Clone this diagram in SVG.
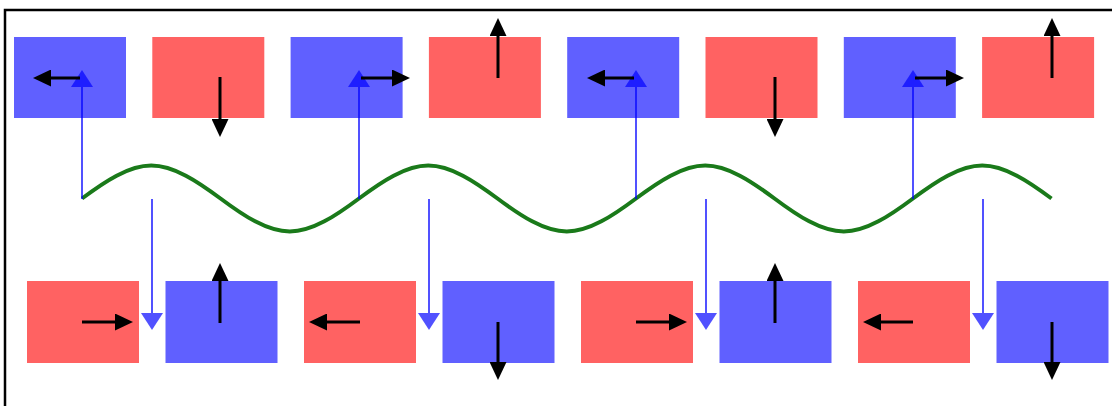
<svg xmlns="http://www.w3.org/2000/svg" width="1112" height="406" viewBox="0 0 1112 406">
<style>
.b{fill:#6060ff}
.r{fill:#ff6262}
.ba{stroke:#000;stroke-width:3;fill:none;marker-end:url(#bh)}
.ca{stroke:#0000ff;stroke-width:2;fill:none;opacity:0.68;marker-end:url(#ch)}
.wave{stroke:#1a7a1a;stroke-width:4;fill:none}
</style>
<defs>
<marker id="bh" markerUnits="userSpaceOnUse" markerWidth="18" markerHeight="17" refX="8" refY="8.5" orient="auto"><path d="M0,0 L18,8.5 L0,17 z" fill="#000"/></marker>
<marker id="ch" markerUnits="userSpaceOnUse" markerWidth="17" markerHeight="22" refX="7" refY="11" orient="auto"><path d="M0,0 L17,11 L0,22 z" fill="#0000ff"/></marker>
</defs>
<rect width="1112" height="406" fill="#fff"/>
<path d="M5,406 V10 H1112" stroke="#000" stroke-width="2.5" fill="none"/>
<g id="top-row">
<g id="t1"><rect class="b" x="14" y="37" width="112" height="81"/></g>
<g id="t2"><rect class="r" x="152.3" y="37" width="112" height="81"/></g>
<g id="t3"><rect class="b" x="290.6" y="37" width="112" height="81"/></g>
<g id="t4"><rect class="r" x="428.9" y="37" width="112" height="81"/></g>
<g id="t5"><rect class="b" x="567.2" y="37" width="112" height="81"/></g>
<g id="t6"><rect class="r" x="705.5" y="37" width="112" height="81"/></g>
<g id="t7"><rect class="b" x="843.8" y="37" width="112" height="81"/></g>
<g id="t8"><rect class="r" x="982.1" y="37" width="112" height="81"/></g>
</g>
<g id="bottom-row">
<g id="b1"><rect class="r" x="27" y="281" width="112" height="82"/></g>
<g id="b2"><rect class="b" x="165.5" y="281" width="112" height="82"/></g>
<g id="b3"><rect class="r" x="304" y="281" width="112" height="82"/></g>
<g id="b4"><rect class="b" x="442.5" y="281" width="112" height="82"/></g>
<g id="b5"><rect class="r" x="581" y="281" width="112" height="82"/></g>
<g id="b6"><rect class="b" x="719.5" y="281" width="112" height="82"/></g>
<g id="b7"><rect class="r" x="858" y="281" width="112" height="82"/></g>
<g id="b8"><rect class="b" x="996.5" y="281" width="112" height="82"/></g>
</g>
<g id="wave">
<path class="wave" d="M82,198.5 C104.58,181.6 128.67,165.5 151.25,165.5 S197.92,181.6 220.5,198.5 S267.17,231.5 289.75,231.5 S336.42,215.4 359,198.5 S405.67,165.5 428.25,165.5 S474.92,181.6 497.5,198.5 S544.17,231.5 566.75,231.5 S613.42,215.4 636,198.5 S682.67,165.5 705.25,165.5 S751.92,181.6 774.5,198.5 S821.17,231.5 843.75,231.5 S890.42,215.4 913,198.5 S959.67,165.5 982.25,165.5 S1028.92,181.6 1051.5,198.5"/>
</g>
<g id="connectors">
<line class="ca" x1="82" y1="199" x2="82" y2="80"/>
<line class="ca" x1="359" y1="199" x2="359" y2="80"/>
<line class="ca" x1="636" y1="199" x2="636" y2="80"/>
<line class="ca" x1="913" y1="199" x2="913" y2="80"/>
<line class="ca" x1="152" y1="199" x2="152" y2="320"/>
<line class="ca" x1="429" y1="199" x2="429" y2="320"/>
<line class="ca" x1="706" y1="199" x2="706" y2="320"/>
<line class="ca" x1="983" y1="199" x2="983" y2="320"/>
</g>
<g id="spin-arrows">
<line class="ba" x1="80" y1="78" x2="43" y2="78"/>
<line class="ba" x1="220" y1="77" x2="220" y2="127"/>
<line class="ba" x1="361" y1="78" x2="400" y2="78"/>
<line class="ba" x1="498" y1="78" x2="498" y2="28"/>
<line class="ba" x1="634" y1="78" x2="597" y2="78"/>
<line class="ba" x1="775" y1="77" x2="775" y2="127"/>
<line class="ba" x1="915" y1="78" x2="954" y2="78"/>
<line class="ba" x1="1052" y1="78" x2="1052" y2="28"/>
<line class="ba" x1="82" y1="322" x2="123" y2="322"/>
<line class="ba" x1="220" y1="323" x2="220" y2="273"/>
<line class="ba" x1="360" y1="322" x2="319" y2="322"/>
<line class="ba" x1="498" y1="322" x2="498" y2="370"/>
<line class="ba" x1="636" y1="322" x2="677" y2="322"/>
<line class="ba" x1="775" y1="323" x2="775" y2="273"/>
<line class="ba" x1="913" y1="322" x2="873" y2="322"/>
<line class="ba" x1="1052" y1="322" x2="1052" y2="370"/>
</g>
</svg>
